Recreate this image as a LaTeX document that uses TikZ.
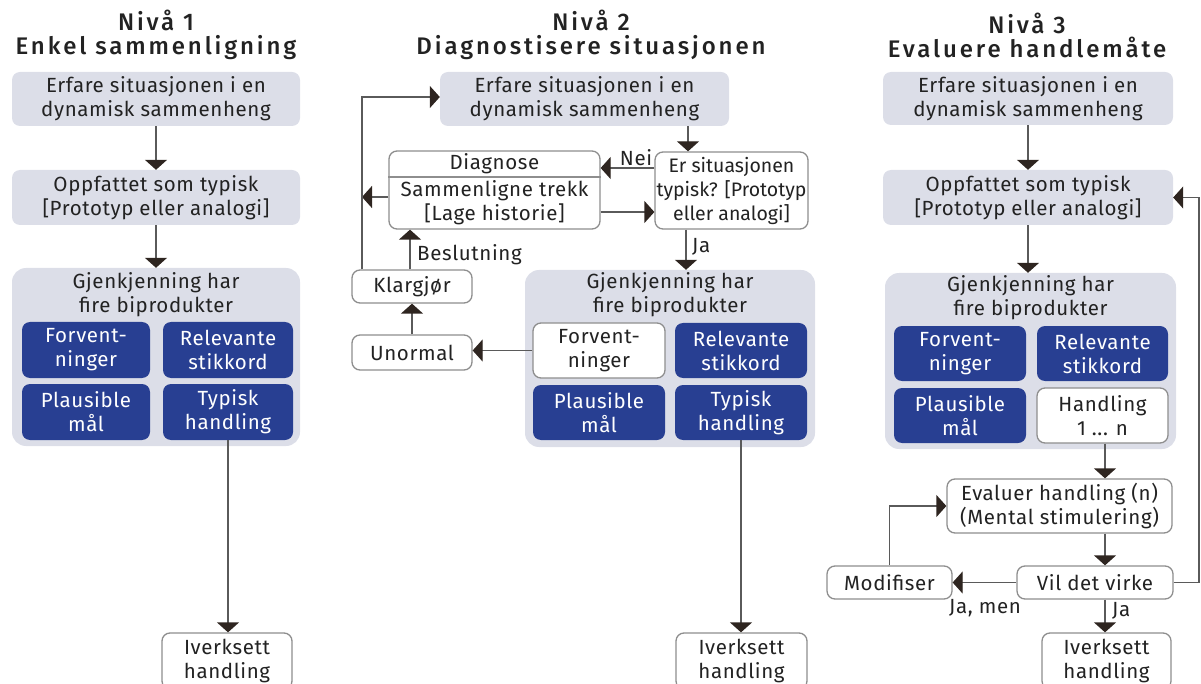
\documentclass[tikz,border=0pt]{standalone}
\usepackage{fontspec}
\setmainfont{Fira Sans}[LetterSpace=3]
\newfontfamily\tightfont{Fira Sans}
\newfontfamily\headfont{Fira Sans Medium}[LetterSpace=12]
\usetikzlibrary{arrows.meta}
\definecolor{ink}{HTML}{222222}
\definecolor{boxgray}{HTML}{DCDEE8}
\definecolor{royal}{HTML}{283F92}
\definecolor{edge}{HTML}{8E8E8E}
\definecolor{wire}{HTML}{5A5A5A}
\definecolor{tipcol}{HTML}{2E2520}
\begin{document}
\begin{tikzpicture}[x=1pt,y=-1pt,
  every node/.style={font=\fontsize{20.5}{24}\selectfont, text=ink, inner sep=0pt, align=center},
  title/.style={font=\headfont\fontsize{24}{24}\selectfont},
  soft/.style={rounded corners=8pt, fill=boxgray},
  group/.style={rounded corners=14pt, fill=boxgray},
  bluebox/.style={rounded corners=8pt, fill=royal, text=white},
  wbox/.style={rounded corners=8pt, fill=white, draw=edge, line width=1.3pt},
  conn/.style={draw=wire, line width=1.3pt, -{Triangle[width=22pt,length=10pt,color=tipcol,fill=tipcol]}},
  lbl/.style={font=\fontsize{20.5}{24}\selectfont}
]
\useasboundingbox (0,0) rectangle (1201,684);

% ---------- column 1 ----------
\node[title] (t1) at (156,35) {Nivå 1\\Enkel sammenligning};
\node[soft, minimum width=288pt, minimum height=54pt] (a1) at (156,99) {Erfare situasjonen i en\\dynamisk sammenheng};
\node[soft, minimum width=288pt, minimum height=55pt] (b1) at (156,197.5) {Oppfattet som typisk\\{}[Prototyp eller analogi]};
\node[group, minimum width=288pt, minimum height=178pt] (c1) at (156,357) {};
\node (g1) at (156,295) {Gjenkjenning har\\fire biprodukter};
\node[bluebox, minimum width=128pt, minimum height=56pt] (f1) at (86,350) {Forvent-\\ninger};
\node[bluebox, minimum width=130pt, minimum height=56pt] (r1) at (228,350) {Relevante\\stikkord};
\node[bluebox, minimum width=128pt, minimum height=56pt] (p1) at (86,412) {Plausible\\mål};
\node[bluebox, minimum width=130pt, minimum height=56pt] (h1) at (228,412) {Typisk\\handling};
\node[wbox, minimum width=130pt, minimum height=56pt] (i1) at (227,661) {Iverksett\\handling};

\draw[conn] (a1.south) -- (b1.north);
\draw[conn] (b1.south) -- (c1.north);
\draw[conn] (h1.south) -- (h1.south |- i1.north);

% ---------- column 2 ----------
\node[title] (t2) at (591,35) {Nivå 2\\Diagnostisere situasjonen};
\node[soft, minimum width=289pt, minimum height=54pt] (a2) at (584.5,99) {Erfare situasjonen i en\\dynamisk sammenheng};
\node[wbox, minimum width=153pt, minimum height=77pt, font=\tightfont\fontsize{19.5}{24}\selectfont] (er) at (731.5,190.5) {Er situasjonen\\typisk? [Prototyp\\eller analogi]};
\node[wbox, minimum width=211pt, minimum height=78pt] (dg) at (494.5,190) {};
\coordinate (divy) at (0,177);
\draw[draw=edge, line width=1.3pt] (dg.west |- divy) -- (dg.east |- divy);
\node (dgtop) at (494.5,164) {Diagnose};
\node (dgbot) at (494.5,203) {Sammenligne trekk\\{}[Lage historie]};
\node[wbox, minimum width=120pt, minimum height=33pt] (kl) at (412,286.5) {Klargjør};
\node[wbox, minimum width=120pt, minimum height=35pt] (un) at (412,352.5) {Unormal};
\node[group, minimum width=290pt, minimum height=177pt] (c2) at (670,358.5) {};
\node (g2) at (670,295) {Gjenkjenning har\\fire biprodukter};
\node[wbox, minimum width=132pt, minimum height=55pt] (f2) at (599,350.5) {Forvent-\\ninger};
\node[bluebox, minimum width=132pt, minimum height=55pt] (r2) at (741,350.5) {Relevante\\stikkord};
\node[bluebox, minimum width=132pt, minimum height=55pt] (p2) at (599,412.5) {Plausible\\mål};
\node[bluebox, minimum width=132pt, minimum height=55pt] (h2) at (741,412.5) {Typisk\\handling};
\node[wbox, minimum width=131pt, minimum height=56pt] (i2) at (741.5,661) {Iverksett\\handling};

\coordinate (x688) at (688,0);
\coordinate (x686) at (686,0);
\coordinate (y168) at (0,168);
\coordinate (y212) at (0,212);
\coordinate (y197) at (0,197);
\coordinate (loopx) at (362,97);
\coordinate (x410) at (410,0);

\draw[conn] (a2.south -| x688) -- (er.north -| x688);
\draw[conn] (er.west |- y168) -- (dg.east |- y168);
\node[lbl] (nei) at (636,158) {Nei};
\draw[conn] (dg.east |- y212) -- (er.west |- y212);
\draw[conn] (dg.west |- y197) -- (loopx |- y197);
\draw[conn] (kl.north -| loopx) -- (loopx) -- (a2.west |- loopx);
\draw[conn] (kl.north -| x410) -- (dg.south -| x410);
\node[lbl, anchor=west] (besl) at (417,255) {Beslutning};
\draw[conn] (un.north) -- (kl.south);
\draw[conn] (f2.west) -- (un.east |- f2.west);
\draw[conn] (er.south -| x686) -- (c2.north -| x686);
\node[lbl, anchor=west] (ja2) at (692,247) {Ja};
\draw[conn] (h2.south) -- (h2.south |- i2.north);

% ---------- column 3 ----------
\node[title] (t3) at (1027,35) {Nivå 3\\Evaluere handlemåte};
\node[soft, minimum width=290pt, minimum height=53pt] (a3) at (1028,98.5) {Erfare situasjonen i en\\dynamisk sammenheng};
\node[soft, minimum width=290pt, minimum height=55pt] (b3) at (1028,197.5) {Oppfattet som typisk\\{}[Prototyp eller analogi]};
\node[group, minimum width=291pt, minimum height=176pt] (c3) at (1030.5,361) {};
\node (g3) at (1030.5,298) {Gjenkjenning har\\fire biprodukter};
\node[bluebox, minimum width=132pt, minimum height=55pt] (f3) at (960,353.5) {Forvent-\\ninger};
\node[bluebox, minimum width=131pt, minimum height=55pt] (r3) at (1102.5,353.5) {Relevante\\stikkord};
\node[bluebox, minimum width=132pt, minimum height=55pt] (p3) at (960,415.5) {Plausible\\mål};
\node[wbox, minimum width=131pt, minimum height=55pt] (h3) at (1102.5,415.5) {Handling\\1 ... n};
\node[wbox, minimum width=225pt, minimum height=54pt] (ev) at (1059.5,506) {Evaluer handling (n)\\(Mental stimulering)};
\node[wbox, minimum width=156pt, minimum height=33pt] (vil) at (1095,582.5) {Vil det virke};
\node[wbox, minimum width=125pt, minimum height=33pt] (mod) at (889.5,582.5) {Modifiser};
\node[wbox, minimum width=129pt, minimum height=56pt] (i3) at (1106.5,661) {Iverksett\\handling};

\coordinate (x1105) at (1105,0);
\coordinate (rx) at (1199,0);

\draw[conn] (a3.south) -- (b3.north);
\draw[conn] (b3.south) -- (b3.south |- c3.north);
\draw[conn] (h3.south -| x1105) -- (ev.north -| x1105);
\draw[conn] (ev.south -| x1105) -- (vil.north -| x1105);
\draw[conn] (vil.east) -| (b3.east -| rx) -- (b3.east);
\draw[conn] (vil.west) -- (mod.east);
\node[lbl] (jamen) at (985,608) {Ja, men};
\draw[conn] (mod.north) |- (ev.west);
\draw[conn] (vil.south -| x1105) -- (i3.north -| x1105);
\node[lbl, anchor=west] (ja3) at (1112,611) {Ja};
\end{tikzpicture}
\end{document}
